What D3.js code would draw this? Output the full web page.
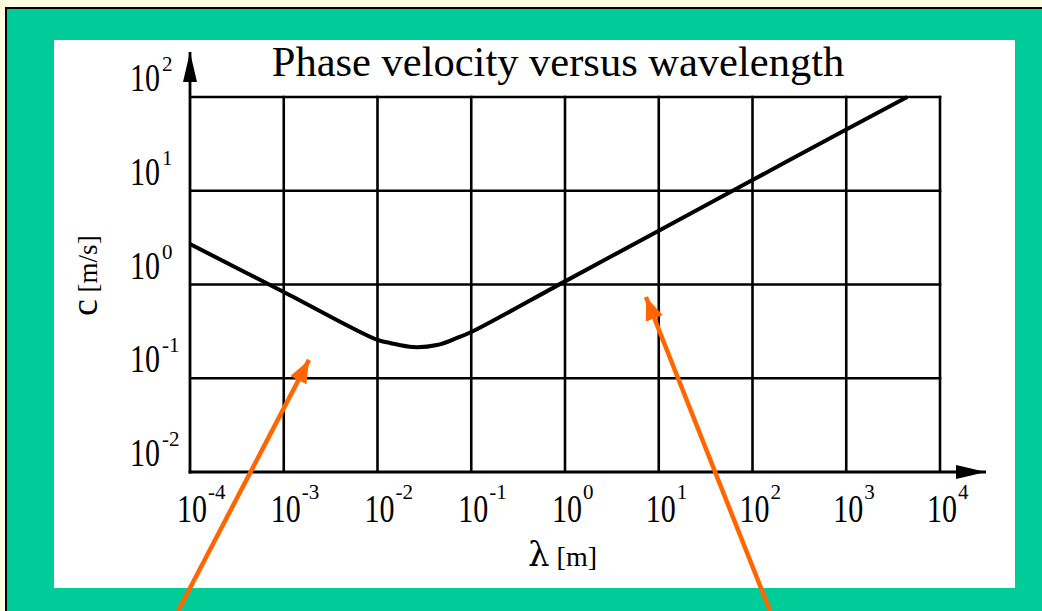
<!DOCTYPE html>
<html>
<head>
<meta charset="utf-8">
<script src="https://cdn.jsdelivr.net/npm/d3@7"></script>
<style>
  html, body { margin: 0; padding: 0; background: #ffffe0; }
  svg { display: block; }
  text { font-family: "Liberation Serif", "DejaVu Serif", serif; fill: #000; }
</style>
</head>
<body>
<div id="chart"></div>
<script>
// wavelength [m] and phase velocity [m/s]
const wavelength    = [1e-4, 1e-3, 1e-2, 0.0136, 0.0239, 0.0431, 0.0705, 0.1, 1, 10, 100, 1000, 4470];
const phaseVelocity = [2.70, 0.832, 0.256, 0.238, 0.215, 0.226, 0.269, 0.311, 1.08, 3.74, 13.0, 45.0, 100];

// decade exponents used for grid + tick labels
const xExponents = [-4, -3, -2, -1, 0, 1, 2, 3, 4];
const yExponents = [-2, -1, 0, 1, 2];

const titleText = 'Phase velocity versus wavelength';

// orange pointer arrows, tail -> tip, in data units (tails run off the bottom)
const pointers = [
    { from: [7.45e-5, 3.29e-4], to: [1.86e-3, 0.157] },
    { from: [154, 3.29e-4],     to: [7.3, 0.736] }
];

const W = 1042, H = 611;
const plot = { left: 190, right: 940, top: 97, bottom: 472 };

const svg = d3.select('#chart').append('svg')
    .attr('width', W)
    .attr('height', H);

// frame: yellow page, green slide border, white panel
svg.append('rect').attr('width', W).attr('height', H).attr('fill', '#ffffe0');
svg.append('rect')
    .attr('x', 6).attr('y', 8).attr('width', W).attr('height', H)
    .attr('fill', '#00cc99').attr('stroke', '#000').attr('stroke-width', 2);
svg.append('rect')
    .attr('x', 54).attr('y', 40).attr('width', 961).attr('height', 548)
    .attr('fill', '#fff');

const defs = svg.append('defs');
defs.append('marker')
    .attr('id', 'axis-head')
    .attr('markerUnits', 'userSpaceOnUse')
    .attr('viewBox', '0 0 30 14')
    .attr('refX', 30).attr('refY', 7)
    .attr('markerWidth', 30).attr('markerHeight', 14)
    .attr('orient', 'auto')
    .append('path').attr('d', 'M0,0 L30,7 L0,14 Z').attr('fill', '#000');
defs.append('marker')
    .attr('id', 'pointer-head')
    .attr('markerUnits', 'userSpaceOnUse')
    .attr('viewBox', '0 0 23 18')
    .attr('refX', 23).attr('refY', 9)
    .attr('markerWidth', 23).attr('markerHeight', 18)
    .attr('orient', 'auto')
    .append('path').attr('d', 'M0,0 L23,9 L0,18 Z').attr('fill', '#ff6600');
defs.append('clipPath').attr('id', 'plot-clip')
    .append('rect')
    .attr('x', plot.left).attr('y', plot.top - 2)
    .attr('width', plot.right - plot.left).attr('height', plot.bottom - plot.top + 2);

const x = d3.scaleLog().domain([1e-4, 1e4]).range([plot.left, plot.right]);
const y = d3.scaleLog().domain([1e-2, 1e2]).range([plot.bottom, plot.top]);

// grid
const grid = svg.append('g').attr('stroke', '#000').attr('stroke-width', 2.6);
grid.selectAll('line.v')
    .data(xExponents.slice(1))
    .join('line')
    .attr('class', 'v')
    .attr('x1', e => x(10 ** e)).attr('x2', e => x(10 ** e))
    .attr('y1', plot.top - 1.3).attr('y2', plot.bottom);
grid.selectAll('line.h')
    .data(yExponents.slice(1))
    .join('line')
    .attr('class', 'h')
    .attr('x1', plot.left).attr('x2', plot.right + 1.3)
    .attr('y1', e => y(10 ** e)).attr('y2', e => y(10 ** e));

// axes with arrow heads
svg.append('line')
    .attr('x1', plot.left).attr('y1', plot.bottom + 1.4)
    .attr('x2', plot.left).attr('y2', 52)
    .attr('stroke', '#000').attr('stroke-width', 2.8)
    .attr('marker-end', 'url(#axis-head)');
svg.append('line')
    .attr('x1', plot.left - 1.4).attr('y1', plot.bottom)
    .attr('x2', 986).attr('y2', plot.bottom)
    .attr('stroke', '#000').attr('stroke-width', 2.8)
    .attr('marker-end', 'url(#axis-head)');

// dispersion curve
const line = d3.line()
    .x((d, i) => x(wavelength[i]))
    .y(d => y(d))
    .curve(d3.curveCatmullRom.alpha(0.5));
svg.append('path')
    .datum(phaseVelocity)
    .attr('clip-path', 'url(#plot-clip)')
    .attr('d', line)
    .attr('fill', 'none')
    .attr('stroke', '#000')
    .attr('stroke-width', 4)
    .attr('stroke-linejoin', 'round');

// tick labels: "10" is drawn a bit tall, exponent beside it
const SY = 1.35;
const xLab = svg.append('g').selectAll('g')
    .data(xExponents)
    .join('g')
    .attr('transform', e => `translate(${x(10 ** e)},0)`);
xLab.append('text')
    .attr('transform', `translate(-13,522) scale(1,${SY})`)
    .attr('font-size', 30)
    .text('10');
xLab.append('text')
    .attr('x', 18).attr('y', 499)
    .attr('font-size', 21)
    .text(e => String(e));

const yLab = svg.append('g').selectAll('g')
    .data(yExponents)
    .join('g')
    .attr('transform', e => `translate(0,${y(10 ** e)})`);
yLab.append('text')
    .attr('transform', `translate(130,-6) scale(1,${SY})`)
    .attr('font-size', 30)
    .text('10');
yLab.append('text')
    .attr('x', 162).attr('y', -26)
    .attr('font-size', 21)
    .text(e => String(e));

// title
svg.append('text')
    .attr('x', 558).attr('y', 76)
    .attr('text-anchor', 'middle')
    .attr('font-size', 42.5)
    .text(titleText);

// axis titles
const yTitle = svg.append('text')
    .attr('transform', 'translate(97,316) rotate(-90)');
yTitle.append('tspan').attr('font-size', 38).attr('font-family', '"Liberation Serif", serif').text('c');
yTitle.append('tspan').attr('font-size', 27).text(' [m/s]');

const xTitle = svg.append('text')
    .attr('x', 528).attr('y', 566);
xTitle.append('tspan').attr('font-size', 34).attr('font-family', '"DejaVu Serif", serif').text('λ');
xTitle.append('tspan').attr('font-size', 28).text(' [m]');

// pointers
svg.append('g').selectAll('line')
    .data(pointers)
    .join('line')
    .attr('x1', d => x(d.from[0])).attr('y1', d => y(d.from[1]))
    .attr('x2', d => x(d.to[0])).attr('y2', d => y(d.to[1]))
    .attr('stroke', '#ff6600')
    .attr('stroke-width', 4.5)
    .attr('marker-end', 'url(#pointer-head)');
</script>
</body>
</html>
